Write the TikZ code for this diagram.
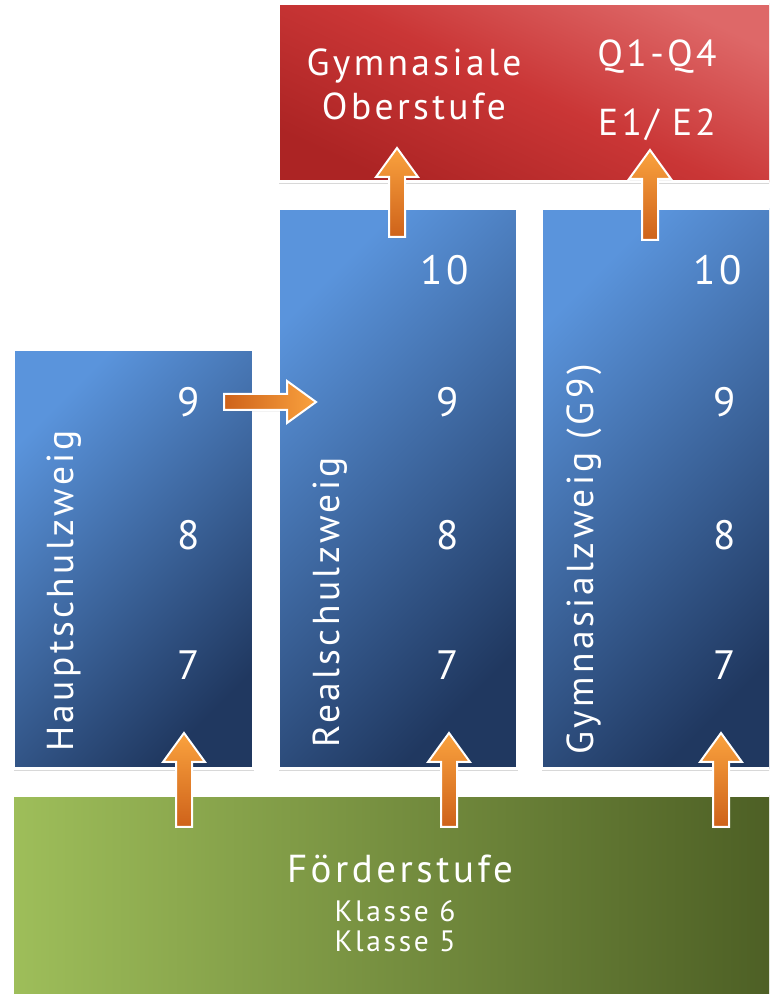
\documentclass[tikz,border=0pt]{standalone}
\usepackage{fontspec}
\setmainfont{PT Sans}[LetterSpace=9]
\usetikzlibrary{calc,shadows,positioning}

\definecolor{blueLight}{RGB}{90,148,220}
\definecolor{blueDark}{RGB}{32,56,96}
\definecolor{redLight}{RGB}{222,104,104}
\definecolor{redMid}{RGB}{202,54,54}
\definecolor{redDark}{RGB}{172,36,36}
\definecolor{greenLight}{RGB}{158,190,90}
\definecolor{greenDark}{RGB}{76,94,36}
\definecolor{orangeLight}{RGB}{250,162,62}
\definecolor{orangeDark}{RGB}{206,98,26}

\tikzset{
  box/.style={draw=white, line width=3pt, inner sep=0pt, anchor=south west,
    drop shadow={opacity=0.3, shadow xshift=0pt, shadow yshift=-2.5pt}},
  bluebox/.style={box, top color=blueLight, bottom color=blueDark, shading angle=45},
  redbox/.style={box, top color=redLight, bottom color=redDark, middle color=redMid, shading angle=-25},
  greenbox/.style={box, left color=greenLight, right color=greenDark},
  whitetext/.style={text=white, inner sep=0pt, anchor=base},
  num/.style={whitetext, font=\fontsize{41}{41}\selectfont},
  branch/.style={whitetext, font=\fontsize{37.5}{37.5}\selectfont, rotate=90, anchor=base west},
  title/.style={whitetext, font=\fontsize{37.5}{37.5}\selectfont},
  small/.style={whitetext, font=\fontsize{29.5}{29.5}\selectfont},
  fatarrow/.style={draw=white, line width=2pt, line join=miter,
    top color=orangeLight, bottom color=orangeDark,
    drop shadow={opacity=0.25, shadow xshift=0.5pt, shadow yshift=-1.5pt}}
}

% block arrow from #2 (tail) to #3 (tip)
\newcommand{\blockarrow}[3][]{%
  \coordinate (hb) at ($(#3)!29pt!(#2)$);
  \draw[fatarrow,#1] ($(#2)!8pt!90:(#3)$) -- ($(hb)!8pt!90:(#3)$) -- ($(hb)!21pt!90:(#3)$)
    -- (#3) -- ($(hb)!21pt!-90:(#3)$) -- ($(hb)!8pt!-90:(#3)$) -- ($(#2)!8pt!-90:(#3)$) -- cycle;
}

\begin{document}
\begin{tikzpicture}[x=1pt,y=1pt]
  \useasboundingbox (0,0) rectangle (769,994);
  \clip (0,0) rectangle (769,994);
  \fill[white] (0,0) rectangle (769,994);

  % Boxes
  \node[redbox, minimum width=503pt, minimum height=178pt] (ober) at (277,811) {};
  \node[bluebox, minimum width=240pt, minimum height=419pt] (haupt) at (12,224) {};
  \node[bluebox, minimum width=239pt, minimum height=560pt] (real) at (277,224) {};
  \node[bluebox, minimum width=240pt, minimum height=560pt] (gym) at (540,224) {};
  \node[greenbox, minimum width=770pt, minimum height=217pt] (foerder) at (11,-20) {};

  % Oberstufe
  \node[title] (ober1) at (414,918) {Gymnasiale};
  \node[title] (ober2) at (414,874) {Oberstufe};
  \node[title] (q14) at (657,927) {Q1-Q4};
  \node[title] (e12) at (657,858) {E1/ E2};

  % Zweige
  \node[branch] (hauptlab) at (73,242) {Hauptschulzweig};
  \node[branch] (reallab) at (339,246) {Realschulzweig};
  \node[branch] (gymlab) at (593,239) {Gymnasialzweig (G9)};

  % Klassen
  \node[num] (h9) at (189,577) {9};
  \node[num] (h8) at (189,444) {8};
  \node[num] (h7) at (189,314) {7};
  \node[num] (r10) at (445,709) {10};
  \node[num] (r9) at (448,577) {9};
  \node[num] (r8) at (448,444) {8};
  \node[num] (r7) at (448,314) {7};
  \node[num] (g10) at (718,709) {10};
  \node[num] (g9) at (725,577) {9};
  \node[num] (g8) at (725,444) {8};
  \node[num] (g7) at (725,314) {7};

  % Foerderstufe
  \node[title, font=\fontsize{39}{39}\selectfont] (foerderlab) at (400,111) {Förderstufe};
  \node[small] (kl6) at (395,72) {Klasse 6};
  \node[small] (kl5) at (395,42) {Klasse 5};

  % Arrows
  \coordinate (fh-tail) at (184,167);
  \coordinate (fh-tip) at (184,261);
  \coordinate (fr-tail) at (449,167);
  \coordinate (fr-tip) at (449,261);
  \coordinate (fg-tail) at (721,167);
  \coordinate (fg-tip) at (721,261);
  \coordinate (ro-tail) at (397,757);
  \coordinate (ro-tip) at (397,846);
  \coordinate (go-tail) at (650,754);
  \coordinate (go-tip) at (650,844);
  \coordinate (hr-tail) at (224,592);
  \coordinate (hr-tip) at (316,592);
  \blockarrow{fh-tail}{fh-tip}
  \blockarrow{fr-tail}{fr-tip}
  \blockarrow{fg-tail}{fg-tip}
  \blockarrow{ro-tail}{ro-tip}
  \blockarrow{go-tail}{go-tip}
  \blockarrow[left color=orangeDark, right color=orangeLight]{hr-tail}{hr-tip}
\end{tikzpicture}
\end{document}
